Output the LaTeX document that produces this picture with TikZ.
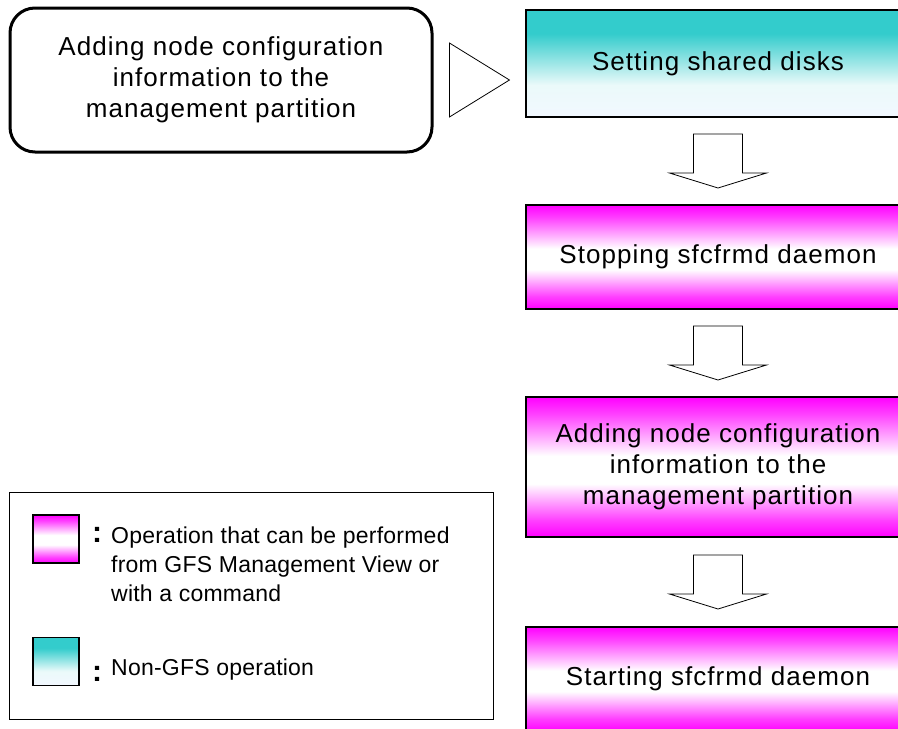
\documentclass[tikz,border=0pt]{standalone}
\usepackage{fontspec}
\setmainfont{Liberation Sans}
\newfontfamily\boxfont{Liberation Sans}[LetterSpace=4]
\newfontfamily\legfont{Liberation Sans}[LetterSpace=1]
\usetikzlibrary{calc}
\definecolor{mag}{RGB}{255,0,255}
\definecolor{cya}{RGB}{51,204,204}
\definecolor{pale}{RGB}{242,248,255}
\pgfdeclareverticalshading{magsh}{100bp}{color(0bp)=(mag); color(25bp)=(mag); color(31bp)=(mag!75!white); color(44bp)=(white); color(54bp)=(white); color(69bp)=(mag!75!white); color(75bp)=(mag); color(100bp)=(mag)}
\pgfdeclareverticalshading{cyash}{100bp}{color(0bp)=(pale); color(25bp)=(pale); color(40bp)=(white!90!cya); color(64bp)=(cya); color(100bp)=(cya)}
\tikzset{
  txt/.style={font=\boxfont\fontsize{26}{31}\selectfont},
  legtxt/.style={font=\legfont\fontsize{23}{29}\selectfont},
  coltxt/.style={font=\legfont\fontsize{30}{30}\bfseries},
  stepbox/.style={draw=black, line width=1.2pt, minimum width=384pt, align=center, inner sep=0pt, txt},
  magbox/.style={stepbox, shading=magsh},
  cyabox/.style={stepbox, shading=cyash},
  downarr/.pic={\draw[fill=white, line width=0.8pt] (-24.5,-27) -- (24.5,-27) -- (24.5,12) -- (48.5,12) -- (0,27) -- (-48.5,12) -- (-24.5,12) -- cycle;},
  swatch/.style={draw=black, line width=1.2pt, minimum width=46pt, minimum height=48pt, inner sep=0pt}
}
\begin{document}
\begin{tikzpicture}[x=1pt,y=-1pt]
\clip (0,0) rectangle (898,729);
\fill[white] (0,0) rectangle (898,729);
% left rounded box
\node[draw=black, line width=3pt, rounded corners=25pt, minimum width=422pt, minimum height=144pt, align=center, inner sep=0pt, txt] (pre) at (221,80) {Adding node configuration\\information to the\\management partition};
% step boxes
\node[cyabox, minimum height=107pt] (s1) at (718,63.5) {Setting shared disks};
\node[magbox, minimum height=104pt] (s2) at (718,257) {Stopping sfcfrmd daemon};
\node[magbox, minimum height=140pt] (s3) at (718,467) {Adding node configuration\\information to the\\management partition};
\node[magbox, minimum height=104pt] (s4) at (718,679) {Starting sfcfrmd daemon};
% right-pointing triangle
\coordinate (tri) at ($(pre.east)!0.5!(pre.east -| s1.west)$);
\draw[line width=0.8pt, fill=white] ($(tri)+(-30,-37)$) -- ($(tri)+(30,0)$) -- ($(tri)+(-30,37)$) -- cycle;
% down arrows
\pic at ($(s1.south)!0.5!(s2.north)$) {downarr};
\pic at ($(s2.south)!0.5!(s3.north)$) {downarr};
\pic at ($(s3.south)!0.5!(s4.north)$) {downarr};
% legend
\node[draw=black, line width=1pt, minimum width=484pt, minimum height=227pt, inner sep=0pt] (leg) at (251,605.5) {};
\node[swatch, shading=magsh] (sw1) at (56,539) {};
\node[swatch, shading=cyash] (sw2) at (56,661.5) {};
\node[coltxt, inner sep=0pt] (c1) at (97,535) {:};
\node[coltxt, inner sep=0pt] (c2) at (97,674) {:};
\node[legtxt, anchor=west, align=left, inner sep=0pt] (l1) at (111,564) {Operation that can be performed\\from GFS Management View or\\with a command};
\node[legtxt, anchor=west, inner sep=0pt] (l2) at (111,670) {Non-GFS operation};
\end{tikzpicture}
\end{document}
